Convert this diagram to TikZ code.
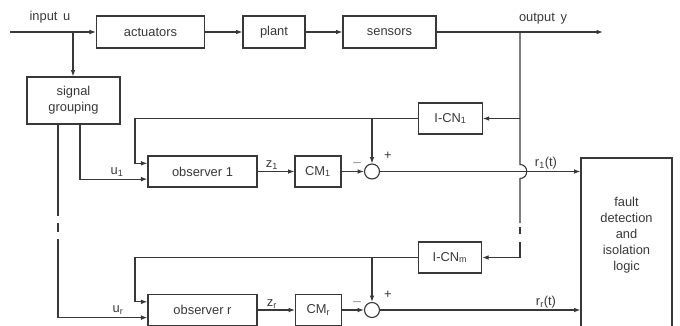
\documentclass[tikz,border=0pt]{standalone}
\usepackage{fontspec}
\setmainfont{Liberation Sans}
\usetikzlibrary{positioning, calc, arrows.meta}

\definecolor{inkgray}{HTML}{383838}

\begin{document}
\begin{tikzpicture}[x=0.03cm, y=-0.03cm, line width=0.95pt, draw=inkgray, text=inkgray, >={Latex[length=5.5pt,width=4pt]}, font=\fontsize{11}{13.6}\selectfont]

    % Styles for blocks, summing points and line labels
    \tikzset{
        blk/.style={draw, minimum height=0.93cm, inner sep=1pt, align=center},
        sumnode/.style={draw, circle, minimum size=0.45cm, inner sep=0pt},
        lbl/.style={inner sep=1pt}
    }

    \clip (0,0) rectangle (680,325);

    % ==========================================
    % Process: actuators, plant, sensors
    % ==========================================
    \node[blk, minimum width=3.24cm, minimum height=0.96cm] (act) at (150.5,32) {actuators};
    \node[blk, minimum width=1.86cm, minimum height=0.96cm] (plant) at (274,32) {plant};
    \node[blk, minimum width=2.79cm, minimum height=0.96cm] (sens) at (389.5,32) {sensors};
    \node[blk, minimum width=2.79cm, minimum height=1.41cm] (sg) at (73.5,100.5) {signal\\grouping};

    \coordinate (uin) at (10,32);
    \coordinate (utap) at (73,32);
    \coordinate (yout) at (603,32);
    \coordinate (ytap) at (520,32);

    \draw[->] (uin) -- (act.west);
    \draw[->] (act) -- (plant);
    \draw[->] (plant) -- (sens);
    \draw[->] (sens.east) -- (yout);
    \draw[->] (utap) -- (utap |- sg.north);

    \node[lbl] (ulab) at (50,17) {input\, u};
    \node[lbl] (ylab) at (543,19) {output\, y};

    % ==========================================
    % Observer bank
    % ==========================================
    \node[blk, minimum width=3.27cm] (obs1) at (202.5,171.5) {observer 1};
    \node[blk, minimum width=1.38cm] (cm1) at (318,171.5) {CM\textsubscript{1}};
    \node[sumnode] (sum1) at (372,171.5) {};
    \node[blk, minimum width=1.9cm] (icn1) at (450.5,118.5) {I-CN\textsubscript{1}};

    \node[blk, minimum width=3.27cm] (obsr) at (202.5,310) {observer r};
    \node[blk, minimum width=1.38cm] (cmr) at (318.5,310) {CM\textsubscript{r}};
    \node[sumnode] (sumr) at (372,310) {};
    \node[blk, minimum width=1.9cm] (icnm) at (450,257.5) {I-CN\textsubscript{m}};

    % Decision block
    \node[draw, minimum width=2.73cm, minimum height=5.61cm] (fdi) at (626.5,251.5) {};
    \node[align=center] (fdit) at (626.5,235) {fault\\detection\\and\\isolation\\logic};

    % Output y to the inverse nets (with a jump over r1)
    \coordinate (jmpA) at (520,164.5);
    \coordinate (jmpB) at (520,178.5);
    \draw (ytap) -- (jmpA) .. controls (529,164.5) and (529,178.5) .. (jmpB) -- (520,223);
    \draw (520,227) -- (520,234);
    \draw[->] (520,242) |- (icnm.east);
    \draw[->] (ytap |- icn1.east) -- (icn1.east);

    % Input groups to the observers
    \coordinate (sgR) at (80,124);
    \coordinate (sgL) at (58,124);
    \draw[->] (sgR) |- ([yshift=-6.5pt]obs1.west);
    \draw (sgL) -- (58,216);
    \draw (58,223) -- (58,232);
    \draw[->] (58,239) |- ([yshift=-6.5pt]obsr.west);

    % Feedback from the inverse nets
    \coordinate (fb1) at (135,118.5);
    \coordinate (fbr) at (135,257.5);
    \draw[->] (icn1.west) -- (fb1) |- ([yshift=7pt]obs1.west);
    \draw[->] (sum1 |- icn1.west) -- (sum1.north);
    \draw[->] (icnm.west) -- (fbr) |- ([yshift=7pt]obsr.west);
    \draw[->] (sumr |- icnm.west) -- (sumr.north);

    % Forward paths to the residuals
    \draw[->] (obs1) -- (cm1);
    \draw[->] (cm1) -- (sum1);
    \draw[->] (sum1.east) -- (sum1.east -| fdi.west);
    \draw[->] (obsr) -- (cmr);
    \draw[->] (cmr) -- (sumr);
    \draw[->] (sumr.east) -- (sumr.east -| fdi.west);

    % Labels
    \node[lbl] (u1lab) at (117,172) {u\textsubscript{1}};
    \node[lbl] (urlab) at (118,310) {u\textsubscript{r}};
    \node[lbl] (z1lab) at (272,165) {z\textsubscript{1}};
    \node[lbl] (zrlab) at (272,304) {z\textsubscript{r}};
    \node[lbl] (m1lab) at (357,163) {$-$};
    \node[lbl] (mrlab) at (357,302) {$-$};
    \node[lbl] (p1lab) at (388,156) {+};
    \node[lbl] (prlab) at (388,295) {+};
    \node[lbl] (r1lab) at (546,163) {r\textsubscript{1}(t)};
    \node[lbl] (rrlab) at (546,302) {r\textsubscript{r}(t)};

\end{tikzpicture}
\end{document}
